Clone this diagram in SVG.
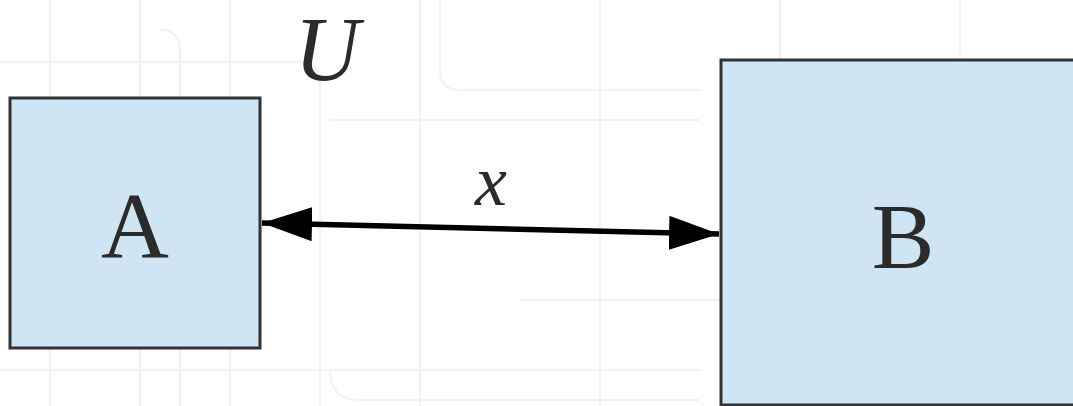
<svg xmlns="http://www.w3.org/2000/svg" width="1073" height="406" viewBox="0 0 1073 406">
<style>
.node rect{fill:#cfe5f3;stroke:#333333;stroke-width:3}
.lbl{font-family:"Liberation Serif","DejaVu Serif",serif;fill:#2b2b2b;text-anchor:middle}
.math{font-family:"Liberation Serif","DejaVu Serif",serif;font-style:italic;fill:#2b2b2b;text-anchor:middle}
.bg path{fill:none;stroke:#edf4f8;stroke-width:2}
</style>
<defs>
<marker id="ah" viewBox="0 0 50 34" refX="50" refY="17" markerWidth="50" markerHeight="34" markerUnits="userSpaceOnUse" orient="auto-start-reverse">
<path d="M0,0 L50,17 L0,34 Z" fill="#000"/>
</marker>
</defs>
<rect width="1073" height="406" fill="#ffffff"/>
<g class="bg">
<path d="M50,0 V406 M140,0 V406 M230,0 V406 M420,0 V406 M600,0 V406 M780,0 V406 M960,0 V406"/>
<path d="M0,62 H300 Q320,62 320,82 V406 M330,120 H700 M160,30 Q180,30 180,50 V406 M440,0 V70 Q440,90 460,90 H700 M520,300 H1073 M0,370 H700 M330,370 Q330,400 360,400 H700"/>
</g>
<g id="node-A" class="node">
<rect x="10" y="98" width="250" height="250"/>
<text class="lbl" x="135" y="257" font-size="94">A</text>
</g>
<g id="node-B" class="node">
<rect x="721" y="60" width="360" height="345"/>
<text class="lbl" x="903" y="268" font-size="94">B</text>
</g>
<g id="label-U">
<text class="math" x="327" y="80" font-size="90">U</text>
</g>
<g id="connectors">
<line x1="262" y1="223" x2="719" y2="234" stroke="#000" stroke-width="5.5" marker-start="url(#ah)" marker-end="url(#ah)"/>
<text class="math" x="491" y="205" font-size="72">x</text>
</g>
</svg>
